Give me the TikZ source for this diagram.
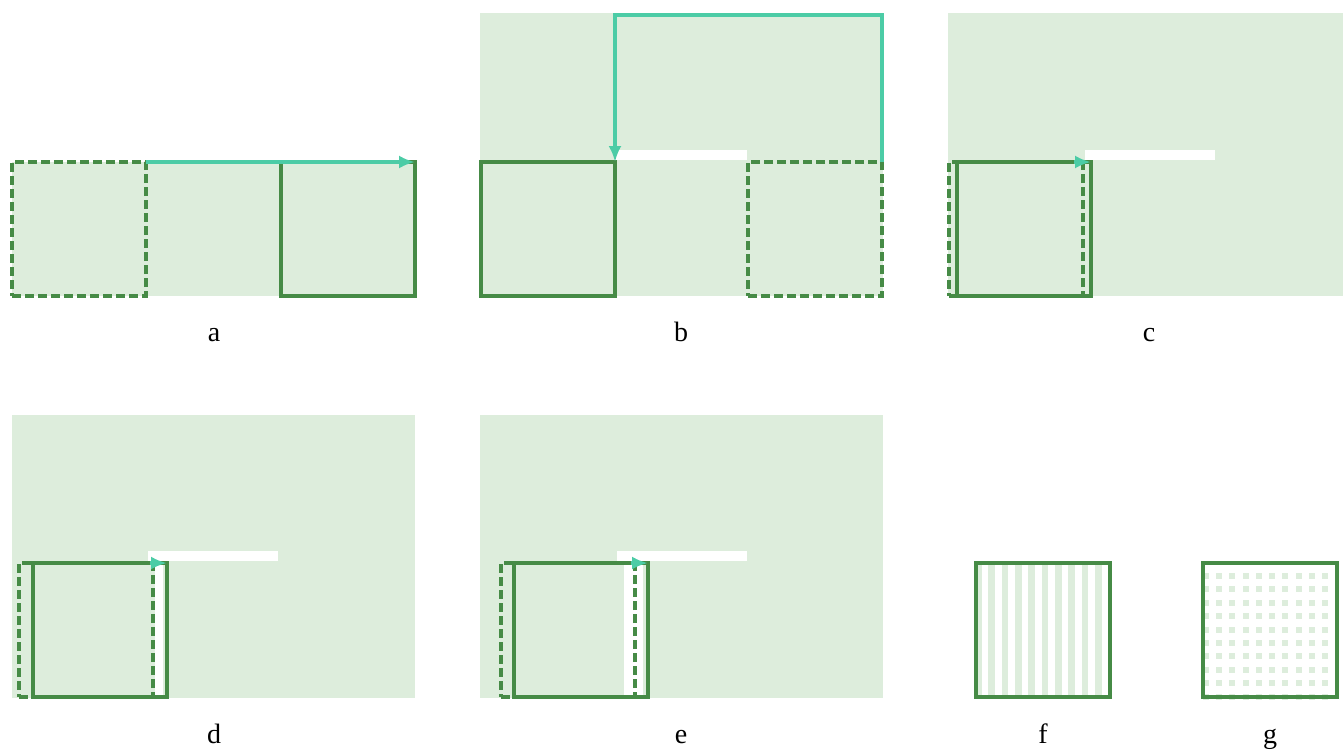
\documentclass[tikz,border=0pt]{standalone}
\usepackage{fontspec}
\setmainfont{Liberation Serif}
\usetikzlibrary{arrows.meta}
\definecolor{bg}{HTML}{DDEDDC}
\definecolor{edge}{HTML}{468B46}
\definecolor{mint}{HTML}{4CCCA6}
\begin{document}
\begin{tikzpicture}[x=1pt,y=-1pt,
  sq/.style={draw=edge, line width=3.2pt, minimum width=134pt, minimum height=134pt, inner sep=0pt, outer sep=0pt, anchor=north west},
  ghost/.style={sq, dash pattern=on 9pt off 4pt},
  move/.style={draw=mint, line width=3.2pt, -{Latex[length=16pt,width=13pt]}},
  lbl/.style={font=\fontsize{28}{30}\selectfont, anchor=base, inner sep=0pt},
  gap/.style={fill=white}]
\fill[white] (0,0) rectangle (1343,750);
\useasboundingbox (0,0) rectangle (1343,750);

% ---------- panel a ----------
\fill[bg] (12,162) rectangle (415,296);
\node[ghost] (a1) at (12,162) {};
\node[sq] (a2) at (281,162) {};
\draw[move] (a1.north east) -- (a2.north east);
\node[lbl] (la) at (214,341) {a};

% ---------- panel b ----------
\fill[bg] (480,13) rectangle (883,296);
\fill[gap] (615,150) rectangle (747,160);
\node[sq] (b1) at (481,162) {};
\node[ghost] (b2) at (748,162) {};
\coordinate (bt1) at (882,15);
\coordinate (bt2) at (615,15);
\draw[move] (b2.north east) -- (bt1) -- (bt2) -- (b1.north east);
\node[lbl] (lb) at (681,341) {b};

% ---------- panel c ----------
\fill[bg] (948,13) rectangle (1343,296);
\fill[gap] (1085,150) rectangle (1215,160);
\node[ghost] (c1) at (949,162) {};
\node[sq] (c2) at (957,162) {};
\coordinate (cs) at (1074,162);
\draw[move] (cs) -- (c2.north east);
\node[lbl] (lc) at (1149,341) {c};

% ---------- panel d ----------
\fill[bg] (12,415) rectangle (415,698);
\fill[gap] (148,551) rectangle (278,561);
\fill[gap] (155,563) rectangle (163,697);
\node[ghost] (d1) at (19,563) {};
\node[sq] (d2) at (33,563) {};
\coordinate (ds) at (150,563);
\draw[move] (ds) -- (d2.north east);
\node[lbl] (ld) at (214,743) {d};

% ---------- panel e ----------
\fill[bg] (480,415) rectangle (883,698);
\fill[gap] (617,551) rectangle (747,561);
\fill[gap] (624,563) rectangle (643,697);
\node[ghost] (e1) at (501,563) {};
\node[sq] (e2) at (514,563) {};
\coordinate (es) at (631,563);
\draw[move] (es) -- (e2.north east);
\node[lbl] (le) at (681,743) {e};

% ---------- panel f ----------
\begin{scope}
  \clip (976,563) rectangle (1111,697);
  \foreach \k in {0,...,9}
    \fill[bg] ({975+13.33*\k},563) rectangle ++(6.67,134);
\end{scope}
\node[sq] (f1) at (976,563) {};
\node[lbl] (lf) at (1043,743) {f};

% ---------- panel g ----------
\foreach \i in {0,...,9}
  \foreach \j in {0,...,9}
    \fill[bg] ({1202.5+13.33*\i},{573+13.4*\j}) rectangle ++(6,6);
\node[sq] (g1) at (1203,563) {};
\node[lbl] (lg) at (1270,743) {g};
\end{tikzpicture}
\end{document}
